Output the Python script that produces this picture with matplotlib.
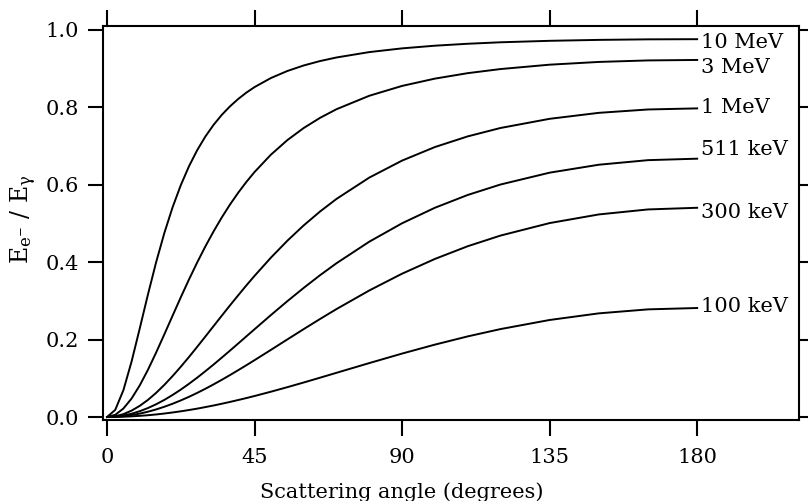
import matplotlib
matplotlib.use("Agg")
import matplotlib.pyplot as plt
import matplotlib.transforms as mtransforms

plt.rcParams['font.family'] = ['DejaVu Serif']
plt.rcParams['mathtext.fontset'] = 'dejavuserif'

# -------------------------
# DATA: fraction of photon energy given to the electron
# -------------------------
angles = [0, 2.5, 5, 7.5, 10, 12.5, 15, 17.5, 20, 22.5, 25, 27.5, 30, 32.5,
          35, 37.5, 40, 42.5, 45, 50, 55, 60, 65, 70, 80, 90, 100, 110, 120,
          135, 150, 165, 180]

frac_10mev = [0.0, 0.0183, 0.0693, 0.1434, 0.2292, 0.3168, 0.4001, 0.4753,
              0.5413, 0.5983, 0.6471, 0.6886, 0.7239, 0.7540, 0.7797, 0.8017,
              0.8207, 0.8372, 0.8515, 0.8749, 0.8930, 0.9073, 0.9187, 0.9279,
              0.9418, 0.9514, 0.9583, 0.9633, 0.9671, 0.9709, 0.9733, 0.9747,
              0.9751]
frac_3mev = [0.0, 0.0056, 0.0219, 0.0478, 0.0819, 0.1221, 0.1667, 0.2137,
             0.2615, 0.3089, 0.3549, 0.3988, 0.4403, 0.4790, 0.5150, 0.5482,
             0.5787, 0.6067, 0.6323, 0.6771, 0.7146, 0.7459, 0.7722, 0.7944,
             0.8291, 0.8545, 0.8733, 0.8874, 0.8980, 0.9093, 0.9164, 0.9203,
             0.9215]
frac_1mev = [0.0, 0.0019, 0.0074, 0.0165, 0.0289, 0.0443, 0.0625, 0.0831,
             0.1056, 0.1297, 0.1549, 0.1811, 0.2077, 0.2346, 0.2614, 0.2880,
             0.3140, 0.3396, 0.3643, 0.4114, 0.4549, 0.4946, 0.5305, 0.5629,
             0.6179, 0.6618, 0.6967, 0.7242, 0.7459, 0.7696, 0.7850, 0.7937,
             0.7965]
frac_511kev = [0.0, 0.0010, 0.0038, 0.0085, 0.0150, 0.0232, 0.0330, 0.0442,
               0.0569, 0.0707, 0.0857, 0.1015, 0.1182, 0.1354, 0.1532, 0.1713,
               0.1896, 0.2081, 0.2265, 0.2632, 0.2989, 0.3333, 0.3661, 0.3969,
               0.4525, 0.5000, 0.5400, 0.5730, 0.6000, 0.6306, 0.6511, 0.6629,
               0.6667]
frac_300kev = [0.0, 0.0006, 0.0022, 0.0050, 0.0088, 0.0137, 0.0196, 0.0265,
               0.0342, 0.0428, 0.0521, 0.0622, 0.0729, 0.0842, 0.0960, 0.1082,
               0.1208, 0.1336, 0.1467, 0.1733, 0.2002, 0.2269, 0.2531, 0.2786,
               0.3266, 0.3699, 0.4079, 0.4407, 0.4682, 0.5005, 0.5228, 0.5357,
               0.5400]
frac_100kev = [0.0, 0.0002, 0.0007, 0.0017, 0.0030, 0.0046, 0.0066, 0.0090,
               0.0117, 0.0147, 0.0180, 0.0216, 0.0256, 0.0297, 0.0342, 0.0389,
               0.0438, 0.0489, 0.0542, 0.0653, 0.0770, 0.0891, 0.1015, 0.1141,
               0.1392, 0.1637, 0.1868, 0.2080, 0.2269, 0.2504, 0.2675, 0.2778,
               0.2813]

series = [frac_10mev, frac_3mev, frac_1mev, frac_511kev, frac_300kev, frac_100kev]
labels = ["10 MeV", "3 MeV", "1 MeV", "511 keV", "300 keV", "100 keV"]
# baseline height of each curve label
label_y = [0.952, 0.888, 0.785, 0.676, 0.5135, 0.271]

x_ticks = [0, 45, 90, 135, 180]
y_ticks = [0.0, 0.2, 0.4, 0.6, 0.8, 1.0]

# -------------------------
# PLOT
# -------------------------
fig = plt.figure(figsize=(8.08, 5.01), dpi=100)
ax = fig.add_axes([0.1275, 0.1617, 0.8615, 0.7863])

for vals in series:
    ax.plot(angles, vals, color='black', lw=1.4, solid_joinstyle='round')

for txt, yv in zip(labels, label_y):
    ax.text(181.3, yv, txt, fontsize=15, va='baseline', ha='left')

ax.set_xlim(-1.22, 211.1)
ax.set_ylim(-0.0077, 1.009)
ax.set_xticks(x_ticks)
ax.set_yticks(y_ticks)
ax.set_yticklabels([f"{v:.1f}" for v in y_ticks])

for sp in ax.spines.values():
    sp.set_linewidth(1.5)

ax.tick_params(axis='both', which='major', direction='out', length=11.5,
               width=1.5, labelsize=15, top=True, right=True)
ax.tick_params(axis='x', pad=9)
ax.tick_params(axis='y', pad=6, length=11)

ax.set_xlabel("Scattering angle (degrees)", fontsize=15, va='top')
blend = mtransforms.blended_transform_factory(ax.transData, ax.transAxes)
ax.xaxis.set_label_coords(90, -0.158, transform=blend)

ax.set_ylabel(r"$\mathrm{E_{e^{-}}\ /\ E_{\gamma}}$", fontsize=17)
ax.yaxis.set_label_coords(-0.092, 0.51)

fig.savefig("out.png", dpi=100)
